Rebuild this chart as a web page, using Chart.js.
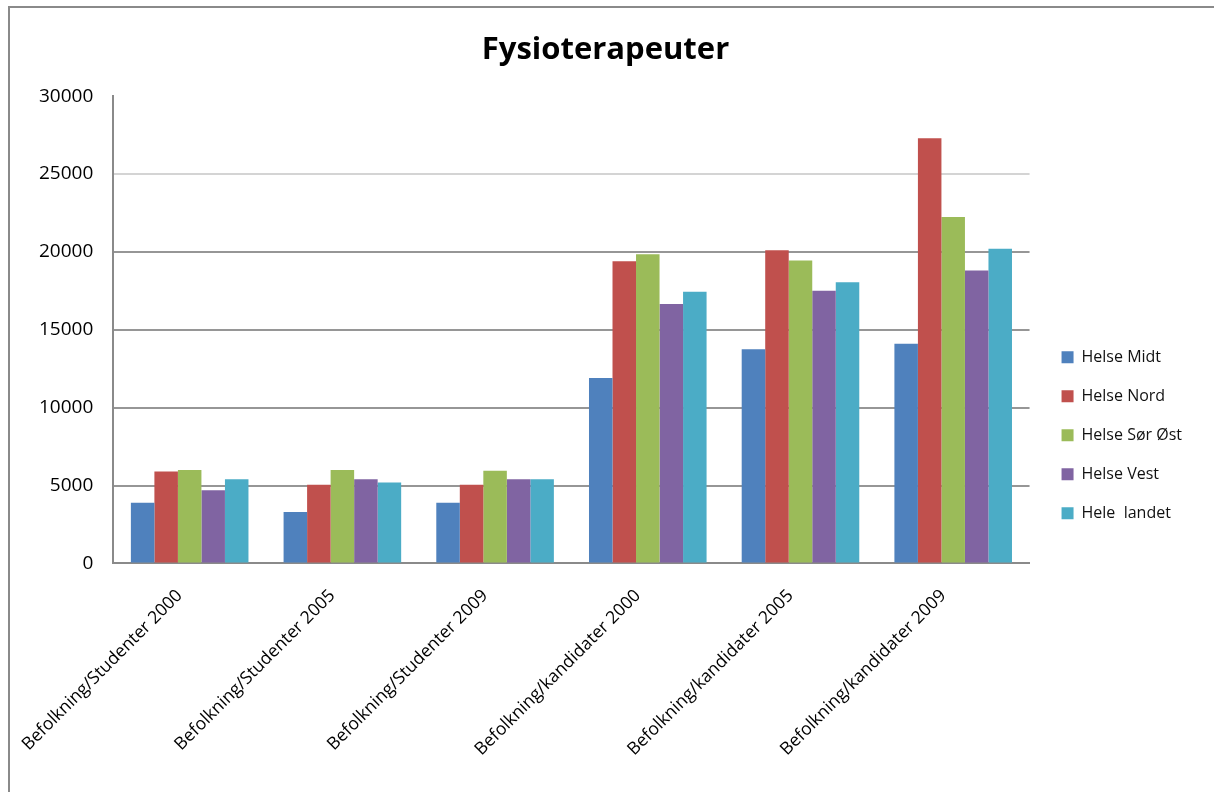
<!DOCTYPE html>
<html>
<head>
<meta charset="utf-8">
<script src="https://cdn.jsdelivr.net/npm/chart.js@4"></script>
<style>
  body { margin: 0; background: #fff; overflow: hidden; }
  #wrap { position: absolute; left: 8px; top: 6px; width: 1210px; height: 800px; border: 2px solid #8a8a8a; }
</style>
</head>
<body>
<div id="wrap"><canvas id="chart1"></canvas></div>
<script>
const categories = [
  "Befolkning/Studenter 2000",
  "Befolkning/Studenter 2005",
  "Befolkning/Studenter 2009",
  "Befolkning/kandidater 2000",
  "Befolkning/kandidater 2005",
  "Befolkning/kandidater 2009"
];
const helseMidt = [3900, 3300, 3900, 11900, 13750, 14100];
const helseNord = [5900, 5050, 5050, 19400, 20100, 27300];
const helseSorOst = [6000, 6000, 5950, 19850, 19450, 22250];
const helseVest = [4700, 5400, 5400, 16650, 17500, 18800];
const heleLandet = [5400, 5200, 5400, 17450, 18050, 20200];

Chart.defaults.font.family = "'Open Sans', sans-serif";
Chart.defaults.color = "#000000";

const chart1 = document.getElementById("chart1");

// gridline colour per tick (top line not drawn, 25000 line lighter like the original)
function gridColor(ctx) {
  if (!ctx.tick) return "#969696";
  if (ctx.tick.value === 30000) return "rgba(0,0,0,0)";
  if (ctx.tick.value === 25000) return "#d4d4d4";
  return "#969696";
}

new Chart(chart1, {
  type: "bar",
  data: {
    labels: categories,
    datasets: [
      { label: "Helse Midt", data: helseMidt, backgroundColor: "#4f81bd" },
      { label: "Helse Nord", data: helseNord, backgroundColor: "#c0504d" },
      { label: "Helse Sør Øst", data: helseSorOst, backgroundColor: "#9bbb59" },
      { label: "Helse Vest", data: helseVest, backgroundColor: "#8064a2" },
      { label: "Hele  landet", data: heleLandet, backgroundColor: "#4bacc6" }
    ]
  },
  options: {
    responsive: true,
    maintainAspectRatio: false,
    animation: false,
    datasets: {
      bar: { categoryPercentage: 0.77, barPercentage: 1.0 }
    },
    layout: { padding: { left: 9, right: 28, bottom: 34 } },
    plugins: {
      title: {
        display: true,
        text: "Fysioterapeuter",
        font: { size: 31, weight: "bold" },
        padding: { top: 24, bottom: 27 }
      },
      legend: {
        position: "right",
        title: { display: true, text: "", padding: { top: 0, bottom: 74 } },
        labels: {
          font: { size: 16 },
          color: "#111",
          boxWidth: 12,
          boxHeight: 12,
          padding: 23
        }
      },
      tooltip: { enabled: false }
    },
    scales: {
      x: {
        grid: { display: false },
        border: { color: "#8a8a8a", width: 2 },
        ticks: {
          font: { size: 17.5 },
          minRotation: 45,
          maxRotation: 45,
          padding: 14,
          labelOffset: -10
        },
        afterFit: (scale) => { scale.paddingLeft = 0; scale.paddingRight = 0; }
      },
      y: {
        min: 0,
        max: 30000,
        ticks: {
          stepSize: 5000,
          font: { size: 19 },
          padding: 20,
          callback: (v) => String(v)
        },
        grid: { color: gridColor, lineWidth: 2, drawTicks: false },
        border: { color: "#8a8a8a", width: 2 }
      },
      y2: {
        position: "right",
        grid: { display: false },
        border: { display: false },
        ticks: { display: false },
        afterFit: (scale) => { scale.width = 9; }
      }
    }
  }
});
</script>
</body>
</html>
